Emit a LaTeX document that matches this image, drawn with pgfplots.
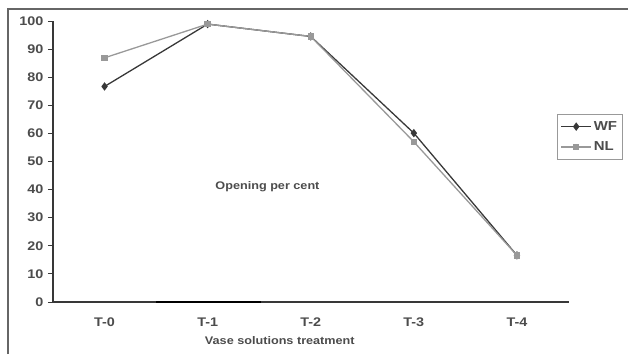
\documentclass[border=0pt]{standalone}
\usepackage{pgfplots}
\pgfplotsset{compat=1.18}
\usepackage{fontspec}
\setmainfont{Liberation Sans}
\newfontfamily\cf{Liberation Sans}[FakeStretch=1.15]
\definecolor{txt}{gray}{0.3}
\definecolor{wf}{gray}{0.22}
\definecolor{nl}{gray}{0.6}
\begin{document}
\begin{tikzpicture}[x=1pt,y=1pt]
\path[use as bounding box] (0,0) rectangle (628,354);
\draw[line width=1.3pt, gray!80!black] (8,0) -- (8,345) -- (628,345);
\begin{axis}[
  at={(53pt,52pt)}, anchor=south west,
  scale only axis, width=515.5pt, height=281pt,
  xmin=-0.5, xmax=4.5, ymin=0, ymax=100,
  axis lines=left, axis line style={-, line width=1.1pt, wf},
  xtick={0,1,2,3,4}, xticklabels={T-0,T-1,T-2,T-3,T-4},
  x tick style={draw=none},
  ytick={0,10,...,100},
  y tick style={line width=0.9pt, wf},
  tick align=outside, major tick length=5pt,
  /pgf/number format/assume math mode=true,
  ticklabel style={font=\cf\fontsize{12.5}{14}\selectfont\bfseries, text=txt},
  xticklabel style={yshift=-7pt},
  yticklabel style={xshift=-1pt},
  xlabel={Vase solutions treatment},
  every axis x label/.style={at={(axis description cs:0.44,0)}, anchor=center, yshift=-39pt, font=\cf\fontsize{11}{13}\selectfont\bfseries, text=txt},
  legend style={at={(axis description cs:0.978,0.669)}, anchor=north west, draw=nl, line width=0.8pt, font=\cf\fontsize{13}{15}\selectfont\bfseries, text=txt, inner xsep=3pt, inner ysep=5pt, row sep=6pt},
  legend cell align=left,
  legend image code/.code={
    \draw[#1] (0pt,0pt) -- (30pt,0pt);
    \draw[#1, only marks] plot coordinates {(15pt,0pt)};
  },
  clip=false,
]
\addplot[wf, line width=1.3pt, mark=diamond*, mark size=3.2pt, mark options={fill=wf, draw=wf}] coordinates {(0,76.7) (1,98.9) (2,94.5) (3,60.1) (4,16.6)};
\addlegendentry{WF}
\addplot[nl, line width=1.3pt, mark=square*, mark size=2.6pt, mark options={fill=nl, draw=nl}] coordinates {(0,86.9) (1,98.9) (2,94.5) (3,57.0) (4,16.6)};
\addlegendentry{NL}
\draw[black, line width=1.6pt] (axis cs:0.5,0) -- (axis cs:1.52,0);
\node[font=\cf\fontsize{11}{13}\selectfont\bfseries, text=txt] at (axis cs:1.58,41) {Opening per cent};
\end{axis}
\end{tikzpicture}
\end{document}
